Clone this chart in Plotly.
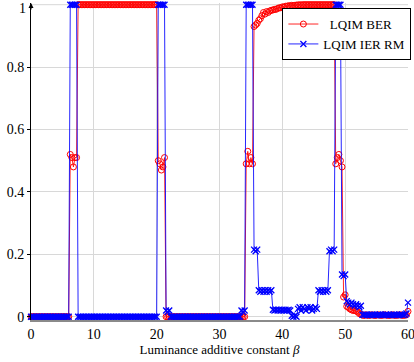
import numpy as np
import plotly.graph_objects as go

# Luminance additive constant beta, sampled every 0.25 from 0 to 60
BETA = np.round(np.arange(0, 60.0001, 0.25), 2)

# Bit error rate of LQIM under additive luminance change
LQIM_BER = [
    0, 0, 0, 0, 0, 0, 0, 0, 0, 0, 0, 0, 0, 0, 0, 0, 0, 0, 0, 0,
    0, 0, 0, 0, 0, 0.52, 0.51, 0.48, 0.51, 0.51, 1, 1, 1, 1, 1, 1, 1, 1, 1, 1,
    1, 1, 1, 1, 1, 1, 1, 1, 1, 1, 1, 1, 1, 1, 1, 1, 1, 1, 1, 1,
    1, 1, 1, 1, 1, 1, 1, 1, 1, 1, 1, 1, 1, 1, 1, 1, 1, 1, 1, 1,
    1, 0.50, 0.49, 0.47, 0.48, 0.51, 0, 0, 0, 0, 0, 0, 0, 0, 0, 0, 0, 0, 0, 0,
    0, 0, 0, 0, 0, 0, 0, 0, 0, 0, 0, 0, 0, 0, 0, 0, 0, 0, 0, 0,
    0, 0, 0, 0, 0, 0, 0, 0, 0, 0, 0, 0, 0, 0, 0, 0, 0, 0.49, 0.53, 0.49,
    0.51, 0.49, 0.93, 0.935, 0.94, 0.95, 0.955, 0.965, 0.975, 0.97, 0.978, 0.975, 0.98, 0.982, 0.983, 0.985, 0.985, 0.988, 0.99, 0.99,
    0.993, 0.992, 0.995, 0.995, 0.997, 0.996, 0.998, 0.997, 0.998, 0.999, 0.999, 1, 0.999, 1, 1, 1, 1, 1, 1, 1,
    1, 1, 1, 1, 1, 1, 1, 1, 1, 1, 1, 1, 1, 1, 0.49, 0.51, 0.52, 0.50, 0.48, 0.063,
    0.07, 0.033, 0.03, 0.025, 0.022, 0.02, 0.02, 0.018, 0.015, 0.01, 0.008, 0.005, 0.004, 0.006, 0.005, 0.004, 0.005, 0.006, 0.005, 0.004,
    0.005, 0.006, 0.005, 0.004, 0.005, 0.006, 0.005, 0.005, 0.004, 0.005, 0.006, 0.005, 0.004, 0.005, 0.005, 0.006, 0.005, 0.004, 0.005, 0.006,
    0.017,
]

# Index error rate (RM) of LQIM under additive luminance change
LQIM_IER_RM = [
    0, 0, 0, 0, 0, 0, 0, 0, 0, 0, 0, 0, 0, 0, 0, 0, 0, 0, 0, 0,
    0, 0, 0, 0, 0, 1, 1, 1, 1, 1, 0, 0, 0, 0, 0, 0, 0, 0, 0, 0,
    0, 0, 0, 0, 0, 0, 0, 0, 0, 0, 0, 0, 0, 0, 0, 0, 0, 0, 0, 0,
    0, 0, 0, 0, 0, 0, 0, 0, 0, 0, 0, 0, 0, 0, 0, 0, 0, 0, 0, 0,
    0, 1, 1, 1, 1, 1, 0.02, 0.015, 0.02, 0, 0, 0, 0, 0, 0, 0, 0, 0, 0, 0,
    0, 0, 0, 0, 0, 0, 0, 0, 0, 0, 0, 0, 0, 0, 0, 0, 0, 0, 0, 0,
    0, 0, 0, 0, 0, 0, 0, 0, 0, 0, 0, 0, 0, 0, 0.02, 0.015, 0.02, 1, 1, 1,
    1, 1, 0.215, 0.21, 0.215, 0.085, 0.08, 0.085, 0.08, 0.085, 0.08, 0.085, 0.08, 0.085, 0.022, 0.02, 0.022, 0.02, 0.022, 0.02,
    0.022, 0.02, 0.022, 0.02, 0.022, 0.02, 0.003, 0.0, 0.003, 0.0, 0.025, 0.03, 0.02, 0.03, 0.025, 0.02, 0.03, 0.025, 0.03, 0.02,
    0.025, 0.03, 0.025, 0.085, 0.08, 0.085, 0.08, 0.085, 0.08, 0.085, 0.21, 0.215, 0.21, 0.215, 1, 1, 1, 1, 0.135, 0.13,
    0.135, 0.05, 0.045, 0.04, 0.045, 0.04, 0.035, 0.04, 0.035, 0.03, 0.035, 0.006, 0.005, 0.007, 0.005, 0.006, 0.005, 0.007, 0.005, 0.006,
    0.005, 0.006, 0.007, 0.005, 0.006, 0.005, 0.007, 0.006, 0.005, 0.006, 0.005, 0.007, 0.005, 0.006, 0.005, 0.006, 0.007, 0.005, 0.006, 0.01,
    0.045,
]

X_TICKS = [0, 10, 20, 30, 40, 50, 60]
Y_TICKS = [0, 0.2, 0.4, 0.6, 0.8, 1]
Y_TICK_LABELS = ["0", "0.2", "0.4", "0.6", "0.8", "1"]

SERIF = "Liberation Serif, Times New Roman, serif"

fig = go.Figure()
fig.add_trace(go.Scatter(
    x=BETA, y=LQIM_BER, name="&nbsp;&nbsp;LQIM BER", mode="lines+markers",
    line=dict(color="rgba(255,0,0,0.85)", width=1),
    marker=dict(symbol="circle-open", size=6, color="red", line=dict(width=1, color="red")),
    cliponaxis=False,
))
fig.add_trace(go.Scatter(
    x=BETA, y=LQIM_IER_RM, name="LQIM IER RM", mode="lines+markers",
    line=dict(color="rgba(0,0,255,0.85)", width=1),
    marker=dict(symbol="x-thin-open", size=6, color="blue", line=dict(width=1.3, color="blue")),
    cliponaxis=False,
))

# arrow tip on the vertical axis
fig.add_annotation(
    x=0, y=1, xref="x", yref="paper", ax=0, ay=8, axref="pixel", ayref="pixel",
    text="", showarrow=True, arrowhead=2, arrowsize=1, arrowwidth=1, arrowcolor="black",
)
# top tick label written explicitly so it stays inside the frame
fig.add_annotation(
    x=0, y=1, xref="paper", yref="paper", xanchor="right", yanchor="top",
    xshift=-4, yshift=3, text=Y_TICK_LABELS[-1], showarrow=False,
    font=dict(family=SERIF, size=14, color="black"),
    borderpad=0,
)

fig.update_layout(
    width=414, height=362,
    margin=dict(l=31, r=5, t=3, b=42),
    paper_bgcolor="white", plot_bgcolor="white",
    font=dict(family=SERIF, size=13, color="black"),
    showlegend=True,
    legend=dict(
        x=0.665, y=0.984, xanchor="left", yanchor="top",
        bgcolor="white", bordercolor="black", borderwidth=1,
        font=dict(family=SERIF, size=13), tracegroupgap=0,
        itemwidth=30,
    ),
)
fig.update_xaxes(
    range=[0, 60], tickvals=X_TICKS, ticktext=[str(v) for v in X_TICKS],
    showgrid=True, gridcolor="#d8d8d8", gridwidth=1, zeroline=False,
    showline=True, linecolor="#8a8a8a", linewidth=2,
    ticks="", tickfont=dict(family=SERIF, size=14),
    ticklabeloverflow="allow", automargin=False,
    title=dict(text="Luminance additive constant <i>β</i>", font=dict(family=SERIF, size=13), standoff=4),
)
fig.update_yaxes(
    range=[-0.0106, 1.0054], tickvals=Y_TICKS[:-1], ticktext=Y_TICK_LABELS[:-1],
    showgrid=True, gridcolor="#d8d8d8", gridwidth=1, zeroline=False,
    showline=True, linecolor="black", linewidth=1,
    ticks="outside", ticklen=3, tickcolor="black",
    tickfont=dict(family=SERIF, size=14), automargin=False,
)
# gridline at the top value
fig.add_hline(y=Y_TICKS[-1], line=dict(color="#d8d8d8", width=1), layer="below")

fig.write_html("out.html")
